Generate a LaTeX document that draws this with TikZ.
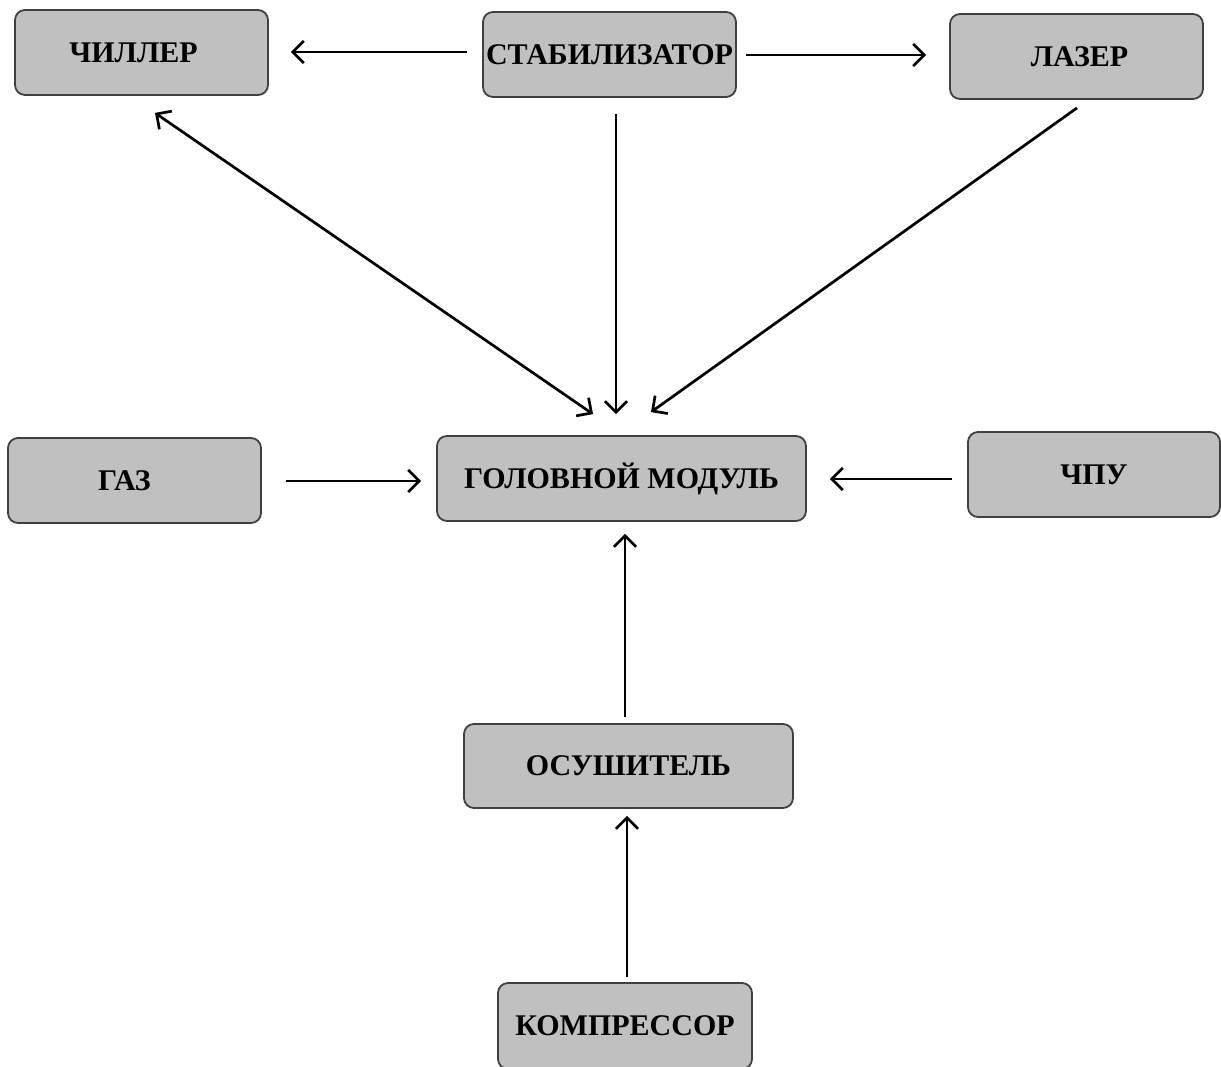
\documentclass[tikz,border=0pt]{standalone}
\usepackage{fontspec}
\setmainfont{Liberation Serif}
\usetikzlibrary{arrows.meta,calc}
\definecolor{boxfill}{HTML}{C0C0C0}
\definecolor{boxline}{HTML}{404040}
\tikzset{
  blk/.style={draw=boxline, fill=boxfill, line width=1.8pt, rounded corners=10pt,
    inner sep=0pt, font=\fontsize{30}{32}\selectfont\bfseries},
  tipb/.tip={Straight Barb[length=11pt,width=22pt,line width=2.7pt]},
  conn/.style={line width=2.7pt, -tipb},
  conn2/.style={line width=2.7pt, tipb-tipb}
}
\begin{document}
\begin{tikzpicture}[x=1pt,y=-1pt]
\useasboundingbox (0,0) rectangle (1221,1066);
\node[blk, minimum width=253pt, minimum height=85pt] (chiller) at (141.5,52.5) {ЧИЛЛЕР\kern16pt\relax};
\node[blk, minimum width=253pt, minimum height=85pt] (stab) at (609.5,54.5) {СТАБИЛИЗАТОР};
\node[blk, minimum width=253pt, minimum height=85pt] (laser) at (1076.5,56.5) {\kern6pt\relax ЛАЗЕР};
\node[blk, minimum width=253pt, minimum height=85pt] (gas) at (134.5,480.5) {ГАЗ\kern20pt\relax};
\node[blk, minimum width=369pt, minimum height=85pt] (head) at (621.5,478.5) {ГОЛОВНОЙ МОДУЛЬ};
\node[blk, minimum width=252pt, minimum height=85pt] (chpu) at (1094,474.5) {ЧПУ};
\node[blk, minimum width=329pt, minimum height=84pt] (osu) at (628.5,766) {ОСУШИТЕЛЬ};
\node[blk, minimum width=254pt, minimum height=86pt] (komp) at (625,1026) {КОМПРЕССОР};

\draw[conn] ($(stab.west)+(-15,-2.5)$) -- ($(chiller.east)+(22,-0.5)$);
\draw[conn] ($(stab.east)+(9,0.5)$) -- ($(laser.west)+(-23,-1.5)$);
\draw[conn2] ($(chiller.south)+(13.5,17)$) -- ($(head.north)+(-28.5,-21)$);
\draw[conn] ($(stab.south)+(6.5,16)$) -- ($(head.north)+(-5.5,-21)$);
\draw[conn] ($(laser.south)+(0.5,8)$) -- ($(head.north)+(29.5,-23)$);
\draw[conn] ($(gas.east)+(24,0.5)$) -- ($(head.west)+(-15,2.5)$);
\draw[conn] ($(chpu.west)+(-15,4.5)$) -- ($(head.east)+(23,0.5)$);
\draw[conn] ($(osu.north)+(-3.5,-6)$) -- ($(head.south)+(3.5,12)$);
\draw[conn] ($(komp.north)+(2,-5)$) -- ($(osu.south)+(-1.5,7)$);
\end{tikzpicture}
\end{document}
